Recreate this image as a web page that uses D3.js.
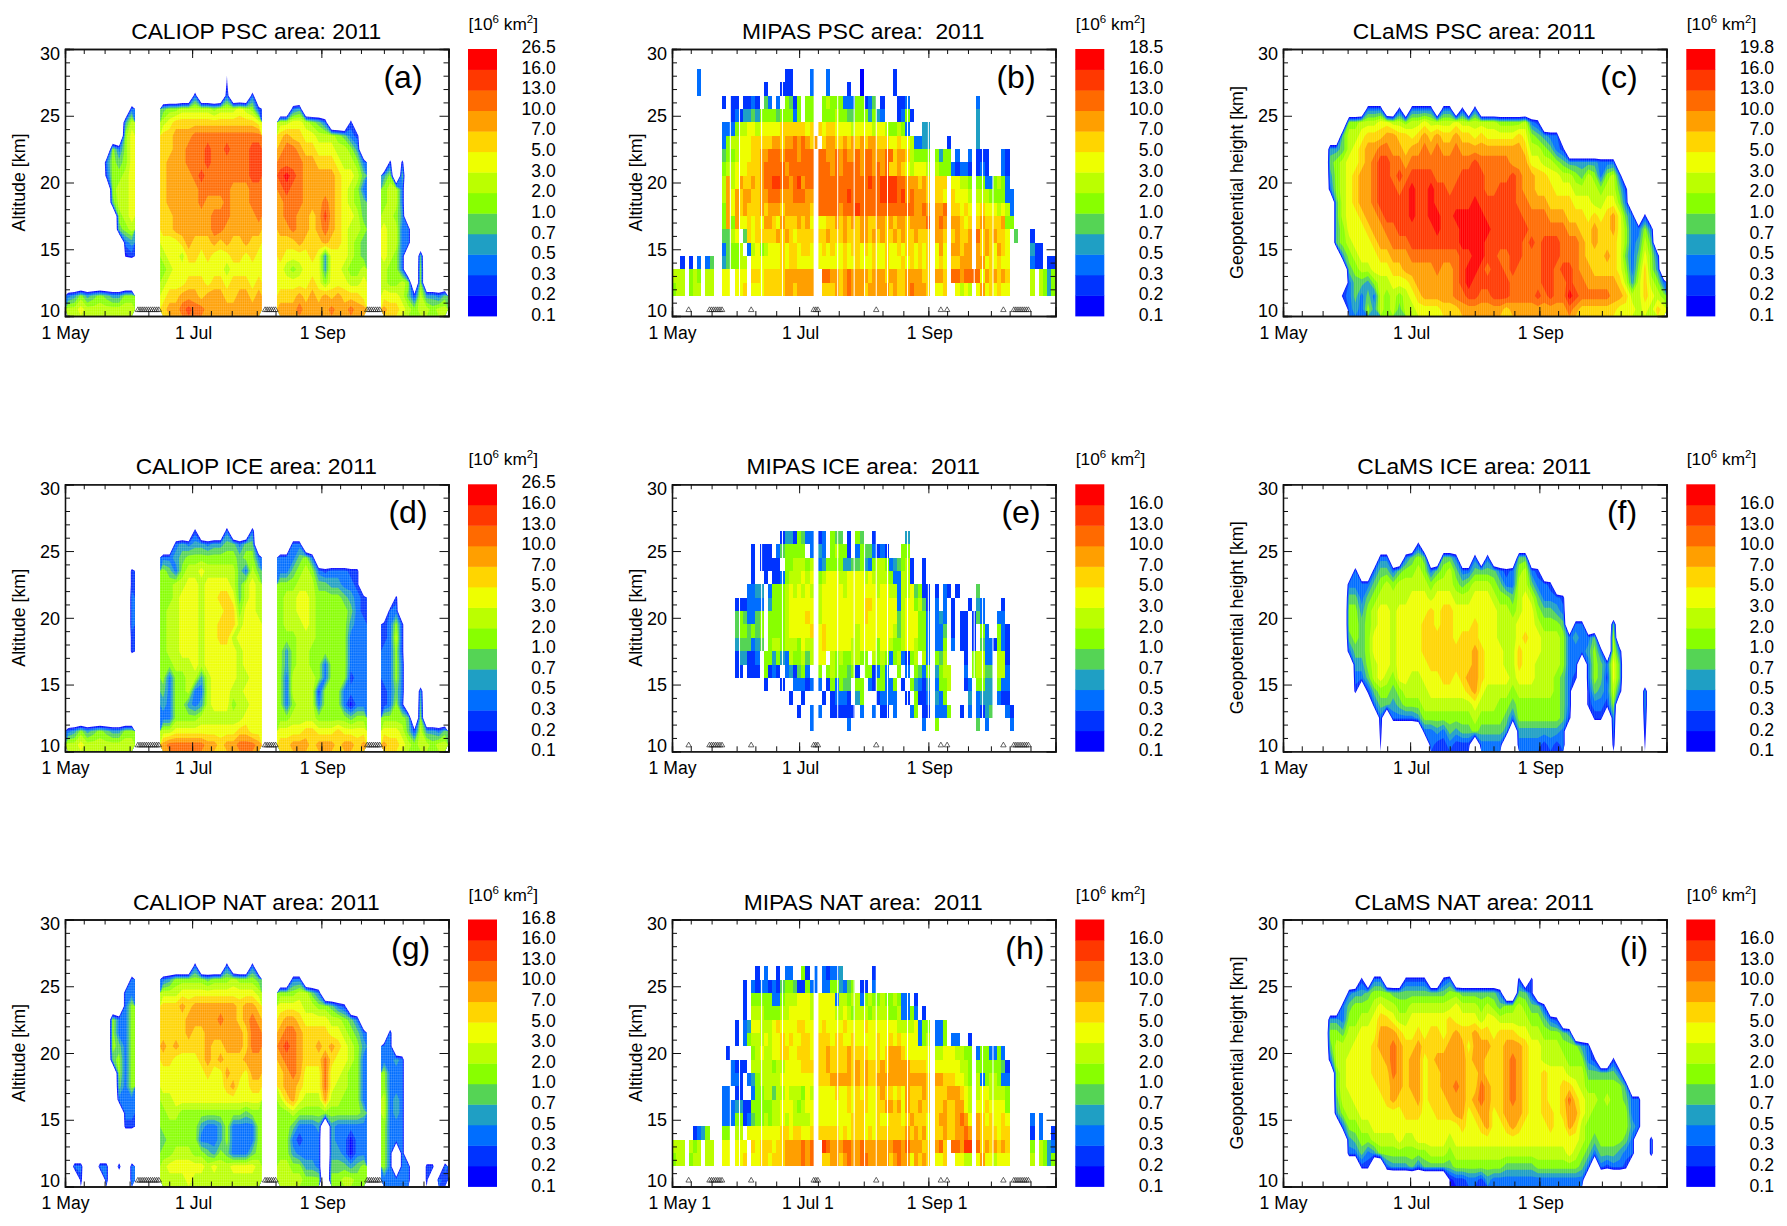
<!DOCTYPE html>
<html>
<head>
<meta charset="utf-8">
<title>PSC area 2011</title>
<script src="https://cdn.jsdelivr.net/npm/d3@7"></script>
<style>
  html, body { margin: 0; background: #fff; }
  text { font-family: "Liberation Sans", Arial, sans-serif; fill: #000; }
  .axis path, .axis line { stroke: #111; }
</style>
</head>
<body>
<script>
/* global d3 */

// colour bar levels, 10^6 km2
var LEVELS = [0.1, 0.2, 0.3, 0.5, 0.7, 1, 2, 3, 5, 7, 10, 13, 16];
var BAND_COLORS = ['#0000ff', '#0033ff', '#006eff', '#1f9fc4', '#55d455', '#88ff00', '#bbff00',
                   '#eeff00', '#ffd500', '#ff9f00', '#ff6a00', '#ff3800', '#ff0000'];
// one char per grid cell: '.' is no cloud, 1-9 a-d is the colour band it falls in
var BAND_CODES = '.123456789abcd';

var TICK_DAYS = [9, 19, 31, 40, 50, 61, 70, 80, 92, 101, 111, 123, 132, 142, 153, 162, 172];
var MAJOR_DAYS = [0, 61, 123];
var DATE_LABELS = ['1 May', '1 Jul', '1 Sep'];

// days with no measurement, marked with triangles
var caliopMissing = [35, 36, 37, 38, 39, 40, 41, 42, 43, 44, 45, 96, 97, 98, 99, 100, 101,
                     145, 146, 147, 148, 149, 150, 151];
var mipasMissing = [8, 18, 19, 20, 21, 22, 23, 24, 38, 68, 69, 70, 98, 129, 132, 159,
                    164, 165, 166, 167, 168, 169, 170, 171];
var mipasWhiteDays = [28, 32.4, 43, 53, 68.2, 70, 79.5, 87.4, 92.4, 98, 103.4, 113, 123, 145, 149, 154];

// CALIOP blocks: [first day, last day], rows from 27.5 km down to 10.5 km
var caliopSpans = [[0, 33.7], [45.5, 94.7], [101.6, 144.8], [151.8, 183.7]];

var caliopPsc = [
  ['...........', '...........', '..........3', '.........47', '.........68', '.......6368', '......36568',
   '......26678', '.......6778', '.......5778', '........678', '........567', '.........34', '.........12',
   '...........', '...........', '34645654466', '77877777777'],
  ['..........1.....', '.....3....3...3.', '5667777767778762', '7899999999999998', '99aaabbbbbbbbbbb',
   '99aabbbcbbcbbbcc', '9aaabbbcbbbbbbcc', '9aaaabcbbbbbbbcc', '9aaaaabbbbbaaabb', '9aaaaabaaabaaabb',
   '99aaaaaabbbaaaab', '99aaaaaabbaaaaaa', '8889a999a9a99a99', '7887998988899898', '6788888888788888',
   '7888999899899989', '899aaa9aaa99aa9a', '9aabcbbaaaaaaaaa'],
  ['..............', '..............', '..34..........', '77887653...2..', '9a99887776532.', 'abba998887764.',
   'bbbbaa99987763', 'cdcbaaaaa98875', 'bcbbaaaaa98763', 'abbbaaaba98765', 'abbaa9aca98875', 'aabaa9aba98776',
   '999a999a998765', '98888984888765', '87678884887667', '88888986888778', '999a9a9a9a9998', 'aaabaaaabaabaa'],
  ['...........', '...........', '...........', '...........', '...........', '...........',
   '.2.2.......', '46.5.......', '6773.......', '6773.......', '7764.......', '87733......',
   '87733......', '8763..5....', '7663..6....', '76676.6....', '88875274435', 'a9987677677']
];

var caliopIce = [
  ['...........', '...........', '...........', '...........', '..........2', '..........2', '..........3',
   '..........3', '..........3', '..........2', '..........2', '...........', '...........', '...........',
   '...........', '...........', '34645654466', '77877777777'],
  ['................', '.....2....3...3.', '..3434434455355.', '3345666666665663', '6536778777775375',
   '6677887888875787', '6678887889985787', '6778887888996887', '6778887889997888', '6778887889978888',
   '6778887888887888', '6677787888887888', '6366774788887788', '5366733788877888', '4366434788867788',
   '3366667777777888', '7788888888889988', 'abbbbbbaa9aabbba'],
  ['..............', '..............', '..33..........', '333563........', '3356763233322.', '6667775544332.',
   '67788766665432', '67788766666532', '67778766666433', '66677766666333', '64677666666333', '64677663666333',
   '63777763666233', '63777726663333', '63677736663133', '66777766666566', '88889988898888', '99aaa9aaa9aa9a'],
  ['...........', '...........', '...........', '...........', '...........', '...........',
   '..2........', '.33........', '2362.......', '2372.......', '3362.......', '3363.......',
   '3363.......', '2353..4....', '2362..5....', '66665.6....', '88875274435', 'a9987677677']
];

var caliopNat = [
  ['...........', '...........', '..........3', '.........33', '.........36', '.......6336', '.......6336',
   '.......6536', '.......5636', '........636', '........536', '........333', '.........33', '.........22',
   '...........', '...........', '.33..33.3.3', '..2...3...3'],
  ['................', '.....3....3...3.', '3466666566676665', '7778888888888887', '999a9aaaaaaa9aa9',
   '9999aaaaabaa9aba', '9999a99aaaaaa9bb', 'a9a9999a99aaa9bb', '9988889a9a999aaa', '8888888988a998aa',
   '88888888889a8899', '7788888888888888', '6776666666666566', '6666664334633336', '5666663334633336',
   '6677766546533356', '7888888787788887', '7777877777777777'],
  ['..............', '..............', '..33..........', '6667753.......', '88887766532...', '9aa9888877653.',
   'abba9999887653', 'bcba99a9a98764', 'abba999b988763', '9aba888b887663', '9aa9888b877663', '79a8777a776663',
   '66766666666665', '6653334.433333', '6632333.433133', '6643333.443133', '7766443.555456', '7777666.667766'],
  ['...........', '...........', '...........', '...........', '...........', '...........',
   '.3.........', '33.........', '3343.......', '6333.......', '6333.......', '7343.......',
   '7343.......', '6333.......', '6333.......', '63.3.......', '63.33..22.3', '33333..2.32']
];

// CLaMS: 3-day columns over the whole season, rows 27.5 km down to 10.5 km
var clamsPsc = [
  '.......... .......... .......... .......... .......... .......... .',
  '.......... .......... .......... .......... .......... .......... .',
  '.......... ...333..2. 3333.33.2. 3......... .......... .......... .',
  '.......... 6677788776 7787777877 7777666673 2......... .......... .',
  '.........5 778999aa99 89a9a99a99 8988888986 5433...... .......... .',
  '.......445 789aabbaa9 aababaabaa aaaaaaaa97 76532..... .......... .',
  '.......567 889abccbba bbbbbbbbbb cbbbbbaaa8 8776544444 333....... .',
  '.......467 89aabccbcb ccccbbbbcc ccbbbbcbaa 9988776576 3673...... .',
  '.......367 89aabcccbc dccdccbccc ccbbcccbaa 9998887777 67752..... .',
  '........57 89aabccccc dccdcccccc dccccccbba aa99998887 78863..... .',
  '........57 889aabcccc dccddccddd ddccccccbb bbaaa99989 89a853.2.. .',
  '........56 8889aabbcc ccccdcccdd dddccccccb bbbbbaa99a 99a863363. .',
  '........56 78889aabbb ccccccccdd ddccccccbc bcccbbba9a 999863475. .',
  '.........4 6788899aaa bbbbbbbbcc ddccbbccbb bcccbbba99 9a98535863 .',
  '.......... 567788899a aaaabaabcd dcbccbcbbb bccbccbaa9 9998636964 .',
  '.......... 3554677888 9aaaaaabcd ccccccbbbb bccbbcbbaa aaa9747976 3',
  '.........2 3535376767 89aaaaabbc cbbcccbbbb cbcbbdcbbb bbaa977987 6',
  '.......... 3436476757 78888999aa aaaaa9aaaa aaaaaba999 9998887879 8'
];

var clamsIce = [
  '.......... .......... .......... .......... .......... .......... .',
  '.......... .......... .......... .......... .......... .......... .',
  '.......... .......... .2........ .......... .......... .......... .',
  '.......... .....33..3 565..553.. 3.3....55. .......... .......... .',
  '.......... .3..355356 6763567533 5555323673 2......... .......... .',
  '.......... 3333567677 7776777656 7776533775 332....... .......... .',
  '.......... 5535677777 8887888777 8887665787 53332..... .......... .',
  '.......... 6646788788 8889899888 8888776788 65543..... .......... .',
  '.......... 6656788788 8899899888 9888777888 76665.33.. ..5....... .',
  '.......... 5656888788 8899999899 9888777898 8777634335 ..7....... .',
  '.......... 3556888788 8899999999 a988877988 8777633346 3.73...... .',
  '.......... .446788788 8889999999 a988877988 7777633.36 5385...... .',
  '.......... .335787688 778889989a a988887888 7776532.36 5285...... .',
  '.......... .2.2566567 7778888889 a877776777 777653..25 4373...4.. .',
  '.......... ....355456 6677777777 8777665666 666653..23 326....4.. .',
  '.......... .....3.333 3466666666 7666653666 666652...2 2.4....3.. .',
  '.......... .....2.... ..33435455 655554.444 44443..... ..3....2.. .',
  '.......... .....1.... ...3223222 .3333..333 32323..... ..2....1.. .'
];

var clamsNat = [
  '.......... .......... .......... .......... .......... .......... .',
  '.......... .......... .......... .......... .......... .......... .',
  '.......... ..2.33...2 222..23... .......2.2 .......... .......... .',
  '.......... 3445666555 5555556655 55553..552 .......... .......... .',
  '.........3 5666787766 7777777877 7676566765 52........ .......... .',
  '.......443 6677899877 8888889888 8788777776 6532...... .......... .',
  '.......665 77888aaa98 8989989a99 a998999887 766654.... .......... .',
  '.......577 78889aaba9 9a9999aaa8 aaa99aaa98 877766643. .......... .',
  '.......377 888899aba9 aa89aaaaa9 aa999aba98 8777766632 ..2....... .',
  '........67 8888999ba9 aa899aaaa9 9a999aba98 8988877755 5553...... .',
  '........67 8888899aa9 aa899aaba9 9ba99aba98 8988998766 66664..... .',
  '........57 7888889a99 9a8999aaa9 aba99aba98 89889b9877 6766533... .',
  '........46 7788888889 9988999aa8 9aa89aaa98 89989aa876 6666633... .',
  '.........3 6677888888 8888888898 89a889a988 88988a9766 6666643... .',
  '.......... 4566777787 7888887888 8888888888 8888888765 666653..3. .',
  '.......... 3353466666 6667776777 7777777777 7777787653 555433..3. .',
  '.......... ..22..3444 5355555666 6666655555 666666653. 32332..... .',
  '.......... .......... ......1223 3243333333 33333333.. .......... .'
];

// MIPAS: 2-day columns, rows 28 km down to 12 km
var mipasPsc = [
  '......3... .......... .......22. ...3...3.. .....1.... ...2...... .......... .......... .......... ..',
  '......3... .......... ..2...222. ...3...3.. ..2..1.... ...2...... .......... .......... .......... ..',
  '.......... ..2.22.223 2.53.3.652 6.66..6766 633366235. 2...223... .......... ...3...... .......... ..',
  '.......... ....232445 4666656663 6.66..6667 6655666464 3...2362.. .......... ...4...... .......... ..',
  '.......... ..33367788 7888889999 9989.98998 8887888878 8766763... 44........ ...4...... .......... ..',
  '.......... ..36778889 9999aa9aab aba9a.9aa9 9a9a9a9aa9 9988988733 44....2... ...4...... .......... ..',
  '.......... ..56678889 9aabbbabbb abbb.bbaab abaababbaa abb9aa9766 66.6466.3. .3.222...3 2......... ..',
  '.......... ..67788899 9abbbbbabb bbbb.bbbab abbbbabbab ab99a98788 87.7666323 32.232...3 2......... ..',
  '.......... ..7a78a99a 9abbccbbab cabb.bbbbb bbbbbbbcbb ccccbbaaa9 a9.999.887 76.6633676 3......... ..',
  '.......... ..7a8a9aa9 9aabbbaaab bbaa.bbbbb bbcbbbbbbb ccccbcabaa a9.998.988 87.7776666 33........ ..',
  '.......... ..6a8a9a99 9a9aaa9aaa aaa9.bbbbb abbbcbbbbb bbbbbbbbaa ba.aab.998 98.8988878 73........ ..',
  '.......... ..6a6a8898 98aa98a999 a9a8.8899a 9a9a9aa99a a9a9aa9aaa ab.aba.aa9 89.9a9999a 66........ ..',
  '.......... ..5578.598 99999a9a98 9999.99a99 9a999aa9a9 a99a9a99a9 99.aa9.9a9 9a.b9a9a99 8.5...2... ..',
  '.......... ..35667.37 8678889899 8998.89898 8989989898 8988989989 89.8a8.aa9 aa.a9a98a9 8.....422. ..',
  '..2.2.3.35 ..456677.8 8888889899 8888.88888 8988988898 8988898989 89.898.99a aa.aa89898 8.....322. 22',
  '777.676.77 ..88.888.9 9899999aaa aaaa..bbaa 9abaaaa9aa a9aa99aaaa 99.aa9.bba bbbb8a9a9a 9.....7.76 46',
  '677.677.77 ..88.889.8 8899999aa9 aaaa..999a 9abaaa9aaa aa9a99abaa a9.889..87 87.8a89898 8.....7.76 46'
];

var mipasIce = [
  '.......... .......... .......... .......... .......... .......... .......... .......... .......... ..',
  '.......... .......... .......... .......... .......... .......... .......... .......... .......... ..',
  '.......... .......... ......2442 6533.23.65 5.2.65..2. ......4... .......... .......... .......... ..',
  '.......... .........2 .222.35666 66.3.43.67 662.365532 32...66... .......... .......... .......... ..',
  '.......... .........2 .22222.667 7767.34666 6445564367 76345672.. 2......... .......... .......... ..',
  '.......... .........2 ..2.223677 7878.67888 7788887877 77633772.. 2......... .......... .......... ..',
  '.......... ........33 44.3666787 8787.78888 8788888887 8877377856 22.2.32.2. ...5...... .......... ..',
  '.......... .....22233 33.4666788 8888.78888 8888889988 8888378867 52.3.3.2.. .2.43....2 .......... ..',
  '.......... .....56533 56.6666788 8898.78888 8888889888 8888578886 63.343.2.2 2.253...33 .......... ..',
  '.......... .....56656 56.6666788 8889.89888 8888788888 8887578886 63.335.2.2 2.2.63..63 2......... ..',
  '.......... .....45553 45.6776777 6877.89888 8887788886 8876678876 63.336.3.2 2.2.533263 2......... ..',
  '.......... .....24422 3.66464376 6757.88.76 7667766.76 7636732670 73.657.... 2.67733.77 2......... ..',
  '.......... .....22.22 2.6232.342 563..6.676 66562.6623 63..6.3.65 36.4677... 3.67755.77 3......... ..',
  '.......... .......... ..2...2..3 3323.3.263 655.66.326 6336.2.643 24.3667... 23.6644.63 3......... ..',
  '.......... .......... ........2. .2....2.23 332.46...2 3333..2.62 23.436.... .4.3444.32 2......... ..',
  '.......... .......... .......... 2..3.3..22 2222.3..3. 22.3...36. 22.3336..2 .3.3245... 32........ ..',
  '.......... .......... .......... ...3...... ..3....... .......... 3..6...... ...5.3.... .3........ ..'
];

var mipasNat = [
  '.......... .......... .......... .......... .......... .......... .......... .......... .......... ..',
  '.......... .......... .......... .......... .......... .......... .......... .......... .......... ..',
  '.......... .......... 2.3..2.33. .62.3.3233 4.......2. .......... .......... .......... .......... ..',
  '.......... .......2.3 2332325665 22633.3366 4356.22.3. .......... .......... .......... .......... ..',
  '.......... .......2.6 6666336777 8887.88883 7767736766 7667633.2. .......... .......... .......... ..',
  '.......... .......2.7 7766667788 8887.88887 7876777677 776673363. 2......... .......... .......... ..',
  '.......... .....2.348 8777898888 9988.89888 8988889888 8888777783 66.336.... .......... .......... ..',
  '.......... .....2.367 7787889898 8998.99989 9889888889 8898988883 67.336.33. .2........ .......... ..',
  '.......... ...2.....6 7877889988 9998.99a99 99a9999889 89aaa98888 88.7788877 66.3663363 .......... ..',
  '.......... ....3222.7 7777677888 8999.99a99 99a9a9a999 a9aaaaa999 98.8888887 76.6666665 2......... ..',
  '.......... ....332.34 6777778888 8888.999aa aaa9a9a99a aaaaaaaaaa a9.aa99988 76.7367763 3......... ..',
  '.......... ..33.22..3 6677577877 7687.88889 8898989889 a99898a999 a9.999aaa9 87.7887777 6......... ..',
  '.......... ..33344226 6666778887 6788.88888 8898999889 9aa9a8a99a 99.99a99aa 87.8898888 6......... ..',
  '.......... ..33366235 6676778787 7778.88888 8889998889 8899989a99 98.9aa99ab a8.a989889 8.....3.3. ..',
  '.....2346. ..66.77.88 8888889989 9889.99999 8989998989 999999a9a9 a8.99a99aa ba.a999989 9.....2.3. .2',
  '777.767.77 ..88.888.9 8999899aaa abab..cbaa abbaabaaaa aaabbabaaa 99.ab9.bba cc.b9a9a9a 9.....6.76 43',
  '677.677.77 ..88.889.8 8998999aaa abab..99aa 9abaabbaaa aa9abaa8a9 a9.889..88 77.8a88788 8.....7.76 46'
];

// panel text, in reading order
var panelTitles = ['CALIOP PSC area: 2011', 'MIPAS PSC area:  2011', 'CLaMS PSC area: 2011',
                   'CALIOP ICE area: 2011', 'MIPAS ICE area:  2011', 'CLaMS ICE area: 2011',
                   'CALIOP NAT area: 2011', 'MIPAS NAT area:  2011', 'CLaMS NAT area: 2011'];
var panelLetters = ['(a)', '(b)', '(c)', '(d)', '(e)', '(f)', '(g)', '(h)', '(i)'];
var panelMaxima = ['26.5', '18.5', '19.8', '26.5', null, null, '16.8', null, null];
var panelData = [caliopPsc, mipasPsc, clamsPsc, caliopIce, mipasIce, clamsIce, caliopNat, mipasNat, clamsNat];

// layout
var WIDTH = 1787, HEIGHT = 1226, PLOT_H = 267, PLOT_W = 383.5;
var rowTops = [49, 484.3, 919.5];
var colLefts = [65, 672, 1283];
var barLefts = [468, 1075.3, 1686.3];
var barLabelRights = [555.7, 1163.3, 1774];
var yTitleX = [25, 642, 1243];
var letterCenters = [403, 1016, 1619, 408, 1021, 1622, 410.6, 1024.8, 1634];

var svg = d3.select('body').append('svg')
  .attr('width', WIDTH)
  .attr('height', HEIGHT)
  .attr('xmlns', 'http://www.w3.org/2000/svg')
  .style('display', 'block');

var bandIndex = function(ch) { return BAND_CODES.indexOf(ch); };
var cleanRow = function(row, n) { return row.replace(/ /g, '').padEnd(n, '.').slice(0, n); };

// filled contour bands for one block of the grid
function drawContours(g, rows, x0, x1, x, y) {
  var clean = rows.map(function(r) { return r.replace(/ /g, ''); });
  var nx = d3.max(clean, function(r) { return r.length; }),
      ny = clean.length;
  var values = [];
  clean.forEach(function(r) {
    cleanRow(r, nx).split('').forEach(function(ch) {
      var k = bandIndex(ch);
      values.push(k === 0 ? -7 : k + 0.5);
    });
  });

  // whole pixels at the block sides, or every lower band bleeds through the antialiased edge
  var xg = d3.scaleLinear().domain([0, nx]).range([Math.round(x(x0)), Math.round(x(x1))]);
  var yg = d3.scaleLinear().domain([0, ny]).range([y(28), y(10)]);
  var path = d3.geoPath(d3.geoTransform({
    point: function(px, py) { this.stream.point(xg(px), yg(py)); }
  }));

  var contours = d3.contours().size([nx, ny]).thresholds(d3.range(1, 14))(values);
  g.append('g').selectAll('path')
    .data(contours)
    .enter()
    .append('path')
      .attr('d', path)
      .style('fill', function(d) { return BAND_COLORS[d.value - 1]; });
}

// the retrieval grid shows through the CALIOP and CLaMS fields as a faint lattice
function drawLattice(g, w, h, horizontal) {
  var lattice = g.append('g')
    .style('stroke', '#fff')
    .style('stroke-opacity', 0.14)
    .style('stroke-width', 1);
  lattice.selectAll('line.v')
    .data(d3.range(1, w, 2.1))
    .enter()
    .append('line')
      .attr('class', 'v')
      .attr('x1', function(d) { return d; })
      .attr('x2', function(d) { return d; })
      .attr('y1', 0)
      .attr('y2', h);
  if (!horizontal) return;
  lattice.selectAll('line.h')
    .data(d3.range(1, h, 2.7))
    .enter()
    .append('line')
      .attr('class', 'h')
      .attr('x1', 0)
      .attr('x2', w)
      .attr('y1', function(d) { return d; })
      .attr('y2', function(d) { return d; });
}

// MIPAS profiles are plain columns
function drawColumns(g, rows, x, y) {
  rows.forEach(function(row, r) {
    var alt = 28 - r;
    var cells = cleanRow(row, 92).split('').map(function(ch, i) { return {day: i * 2, band: bandIndex(ch)}; })
      .filter(function(d) { return d.band > 0; });
    g.append('g').selectAll('rect')
      .data(cells)
      .enter()
      .append('rect')
        .attr('x', function(d) { return x(d.day); })
        .attr('width', function(d) { return x(d.day + 2) - x(d.day); })
        .attr('y', y(alt + 0.5))
        .attr('height', y(alt - 0.5) - y(alt + 0.5))
        .attr('shape-rendering', 'crispEdges')
        .style('fill', function(d) { return BAND_COLORS[d.band - 1]; });
  });
  g.append('g').selectAll('line')
    .data(mipasWhiteDays)
    .enter()
    .append('line')
      .attr('x1', function(d) { return x(d); })
      .attr('x2', function(d) { return x(d); })
      .attr('y1', y(28.5))
      .attr('y2', y(11.5))
      .style('stroke', '#fff')
      .style('stroke-width', 1);
}

function drawFrame(g, x, y, h, w) {
  var minorY = d3.range(10, 31).filter(function(d) { return d % 5 !== 0; }),
      majorY = d3.range(10, 31, 5);
  var pieces = [
    [d3.axisLeft(y).tickValues(minorY).tickSize(-5).tickFormat(''), 0, 0],
    [d3.axisRight(y).tickValues(minorY).tickSize(-5).tickFormat(''), w, 0],
    [d3.axisRight(y).tickValues(majorY).tickSize(-9).tickFormat(''), w, 0],
    [d3.axisBottom(x).tickValues(TICK_DAYS).tickSize(-5).tickFormat(''), 0, h],
    [d3.axisTop(x).tickValues(TICK_DAYS).tickSize(-5).tickFormat(''), 0, 0],
    [d3.axisBottom(x).tickValues([61, 123]).tickSize(-9).tickFormat(''), 0, h],
    [d3.axisTop(x).tickValues([61, 123]).tickSize(-9).tickFormat(''), 0, 0]
  ];
  pieces.forEach(function(p) {
    g.append('g')
      .attr('class', 'axis')
      .attr('transform', 'translate(' + p[1] + ',' + p[2] + ')')
      .call(p[0]);
  });

  var left = g.append('g')
    .attr('class', 'axis')
    .call(d3.axisLeft(y).tickValues(majorY).tickSize(-9).tickPadding(5).tickFormat(d3.format('d')));
  left.selectAll('text')
    .style('font-size', '18px')
    .attr('dy', function(d) {
      if (d === 30) return 10.2;
      if (d === 10) return 0.2;
      return 6.2;
    });
  g.selectAll('.axis path').style('stroke-width', 1.3);
}

function drawMarkers(g, days, x, y) {
  var tri = d3.symbol().type(d3.symbolTriangle).size(13);
  g.append('g').selectAll('path')
    .data(days)
    .enter()
    .append('path')
      .attr('d', tri)
      .attr('transform', function(d) { return 'translate(' + x(d) + ',' + y(10.45) + ')'; })
      .style('fill', 'none')
      .style('stroke', '#222')
      .style('stroke-width', 0.7);
}

function drawBar(g, col, top, maxLabel) {
  var barW = 29;
  var band = d3.scaleBand().domain(d3.range(13)).range([top + PLOT_H, top]);
  g.append('g').selectAll('rect')
    .data(BAND_COLORS)
    .enter()
    .append('rect')
      .attr('x', barLefts[col])
      .attr('y', function(d, i) { return band(i); })
      .attr('width', barW)
      .attr('height', band.bandwidth() + 0.4)
      .style('fill', function(d) { return d; });

  var labels = LEVELS.map(function(v) { return v.toFixed(1); }).concat([maxLabel]);
  var ly = d3.scaleLinear().domain([0, 13]).range([top + PLOT_H - 1.5, top - 2.5]);
  g.append('g').selectAll('text')
    .data(labels)
    .enter()
    .append('text')
      .attr('x', barLabelRights[col])
      .attr('y', function(d, i) { return ly(i) + 6.5; })
      .style('font-size', '17.6px')
      .style('text-anchor', 'end')
      .text(function(d) { return d; });

  var unit = g.append('text')
    .attr('x', barLefts[col] + 0.5)
    .attr('y', top - 19)
    .style('font-size', '17.3px');
  unit.append('tspan').text('[10');
  unit.append('tspan').attr('dy', -7).style('font-size', '11.5px').text('6');
  unit.append('tspan').attr('dy', 7).text(' km');
  unit.append('tspan').attr('dy', -7).style('font-size', '11.5px').text('2');
  unit.append('tspan').attr('dy', 7).text(']');
}

panelTitles.forEach(function(title, p) {
  var col = p % 3, row = Math.floor(p / 3);
  var left = colLefts[col], top = rowTops[row], w = PLOT_W;
  var x = d3.scaleLinear().domain([0, 184]).range([0, w]);
  var y = d3.scaleLinear().domain([10, 30]).range([PLOT_H, 0]);
  var g = svg.append('g').attr('transform', 'translate(' + left + ',' + top + ')');

  if (col === 0) {
    panelData[p].forEach(function(block, b) {
      drawContours(g, block, caliopSpans[b][0], caliopSpans[b][1], x, y);
    });
    drawLattice(g, w, PLOT_H, true);
    drawMarkers(g, caliopMissing, x, y);
  } else if (col === 1) {
    drawColumns(g, panelData[p], x, y);
    drawMarkers(g, mipasMissing, x, y);
  } else {
    drawContours(g, panelData[p], 0, 184, x, y);
    drawLattice(g, w, PLOT_H, false);
  }

  drawFrame(g, x, y, PLOT_H, w);

  // date labels under the axis, panel (h) has the stray trailing 1
  g.append('g').selectAll('text')
    .data(MAJOR_DAYS)
    .enter()
    .append('text')
      .attr('x', function(d) { return x(d) + (d > 0 ? 1.5 : 0.5); })
      .attr('y', PLOT_H + 22.5)
      .style('font-size', '17.6px')
      .style('text-anchor', 'middle')
      .text(function(d, i) { return DATE_LABELS[i]; })
      .each(function() {
        if (p !== 7) return;
        var el = d3.select(this), len = this.getComputedTextLength();
        el.attr('x', +el.attr('x') - len / 2)
          .style('text-anchor', 'start')
          .text(el.text() + ' 1');
      });

  svg.append('text')
    .attr('x', left + w / 2 - 0.5)
    .attr('y', top - 10)
    .style('font-size', '22.8px')
    .style('text-anchor', 'middle')
    .style('white-space', 'pre')
    .text(title);

  svg.append('text')
    .attr('x', letterCenters[p])
    .attr('y', top + 39)
    .style('font-size', '32px')
    .style('text-anchor', 'middle')
    .text(panelLetters[p]);

  svg.append('text')
    .attr('transform', 'translate(' + yTitleX[col] + ',' + (top + PLOT_H / 2) + ') rotate(-90)')
    .style('font-size', '17.8px')
    .style('text-anchor', 'middle')
    .text(col === 2 ? 'Geopotential height [km]' : 'Altitude [km]');

  drawBar(svg.append('g'), col, top, panelMaxima[p]);
});
</script>
</body>
</html>
